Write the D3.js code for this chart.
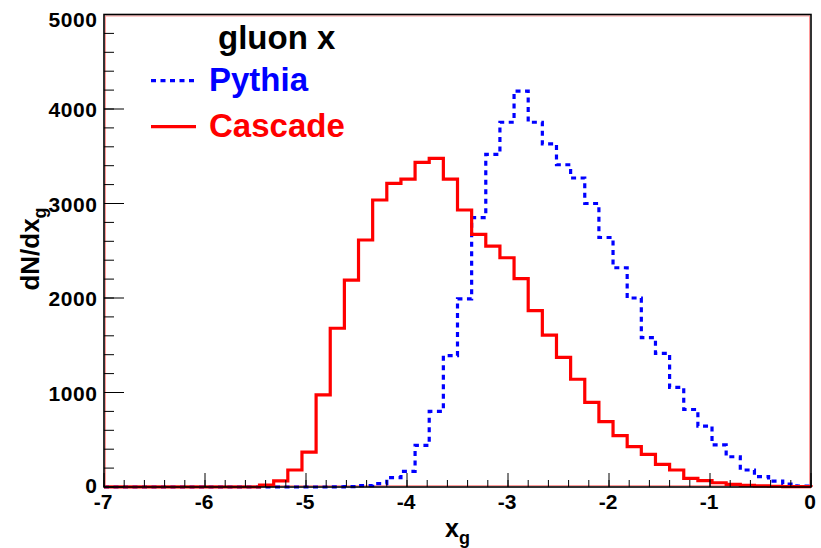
<!DOCTYPE html>
<html>
<head>
<meta charset="utf-8">
<script src="https://cdn.jsdelivr.net/npm/d3@7"></script>
<style>
  body { margin: 0; background: #fff; }
  svg { display: block; font-family: "Liberation Sans", Arial, sans-serif; font-weight: bold; }
</style>
</head>
<body>
<script>
// Histogram binning: 50 bins of x_g from -7 to 0
const binLow = -7, binHigh = 0, nBins = 50;

// Cascade (red, solid) bin contents
const cascadeCounts = [
  0, 0, 0, 0, 0, 0, 0, 0, 0, 0,
  0, 20, 65, 180, 370, 975, 1680, 2190, 2614, 3037,
  3214, 3259, 3436, 3478, 3259, 2931, 2674, 2550, 2426, 2205,
  1866, 1608, 1372, 1140, 896, 691, 543, 427, 346, 240,
  180, 92, 67, 45, 28, 18, 12, 8, 5, 3
];

// Pythia (blue, dotted) bin contents
const pythiaCounts = [
  0, 0, 0, 0, 0, 0, 0, 0, 0, 0,
  0, 0, 0, 0, 0, 0, 2, 5, 15, 35,
  100, 165, 440, 800, 1390, 1990, 2850, 3520, 3860, 4190,
  3860, 3630, 3410, 3270, 3000, 2640, 2320, 2000, 1580, 1415,
  1055, 820, 645, 445, 320, 180, 110, 63, 32, 10
];

const xTicks = [-7, -6, -5, -4, -3, -2, -1, 0];
const yTicks = [0, 1000, 2000, 3000, 4000, 5000];
const legendTitle = "gluon x";
const seriesNames = ["Pythia", "Cascade"];

const W = 821, H = 548;
const margin = {top: 14.5, right: 10, bottom: 61, left: 104};
const width = 811 - margin.left, height = 487 - margin.top;

const svg = d3.select("body").append("svg")
  .attr("width", W).attr("height", H);

const g = svg.append("g")
  .attr("transform", "translate(" + margin.left + "," + margin.top + ")");

const x = d3.scaleLinear().domain([binLow, binHigh]).range([0, width]);
const y = d3.scaleLinear().domain([0, 5000]).range([height, 0]);

// Turn bin contents into step points (low edge of every bin + closing edge)
function steps(counts) {
  const w = (binHigh - binLow) / nBins;
  const pts = [[binLow, 0]];
  counts.forEach((c, i) => pts.push([binLow + i * w, c]));
  pts.push([binHigh, counts[counts.length - 1]]);
  pts.push([binHigh, 0]);
  return pts;
}

const histLine = d3.line()
  .x(d => x(d[0]))
  .y(d => y(d[1]))
  .curve(d3.curveStepAfter);

// inner reddish frame line seen in the original
g.append("rect")
  .attr("x", 1.5).attr("y", 1.5)
  .attr("width", width - 3).attr("height", height - 3)
  .attr("fill", "none").attr("stroke", "#ff9a9a").attr("stroke-width", 1);

// Histograms
g.append("path")
  .datum(steps(pythiaCounts))
  .attr("fill", "none")
  .attr("stroke", "#0000ff")
  .attr("stroke-width", 3.2)
  .attr("stroke-dasharray", "5,4.5")
  .attr("d", histLine);

g.append("path")
  .datum(steps(cascadeCounts))
  .attr("fill", "none")
  .attr("stroke", "#ff0000")
  .attr("stroke-width", 3.2)
  .attr("d", histLine);

// Frame
g.append("rect")
  .attr("width", width).attr("height", height)
  .attr("fill", "none").attr("stroke", "#000").attr("stroke-width", 1.6);

// X axis: major ticks of 14px, 5 minor divisions of 7px, pointing inward
const xMinor = d3.range(binLow, binHigh + 0.001, 0.2);
const xAxis = g.append("g").attr("transform", "translate(0," + height + ")");
xAxis.selectAll("line.minor").data(xMinor).enter().append("line")
  .attr("x1", d => x(d)).attr("x2", d => x(d))
  .attr("y1", 0).attr("y2", -7)
  .attr("stroke", "#000").attr("stroke-width", 1);
xAxis.selectAll("line.major").data(xTicks).enter().append("line")
  .attr("x1", d => x(d)).attr("x2", d => x(d))
  .attr("y1", 0).attr("y2", -14)
  .attr("stroke", "#000").attr("stroke-width", 1);
xAxis.selectAll("text").data(xTicks).enter().append("text")
  .attr("x", d => x(d) - 1)
  .attr("y", 22)
  .attr("text-anchor", "middle")
  .attr("font-size", 21)
  .text(d => d);

// Y axis: major ticks of 20px, minor every 200 of 10px
const yMinor = d3.range(0, 5001, 200);
const yAxis = g.append("g");
yAxis.selectAll("line.minor").data(yMinor).enter().append("line")
  .attr("x1", 0).attr("x2", 10)
  .attr("y1", d => y(d)).attr("y2", d => y(d))
  .attr("stroke", "#000").attr("stroke-width", 1);
yAxis.selectAll("line.major").data(yTicks).enter().append("line")
  .attr("x1", 0).attr("x2", 20)
  .attr("y1", d => y(d)).attr("y2", d => y(d))
  .attr("stroke", "#000").attr("stroke-width", 1);
yAxis.selectAll("text").data(yTicks).enter().append("text")
  .attr("x", -6.5)
  .attr("y", d => Math.max(y(d), 4) + (d === 0 ? 6 : 8))
  .attr("text-anchor", "end")
  .attr("font-size", 21)
  .attr("letter-spacing", 0.6)
  .text(d => d);

// Axis titles
const xTitle = svg.append("text")
  .attr("x", 457.5).attr("y", 537)
  .attr("text-anchor", "middle")
  .attr("font-size", 25);
xTitle.append("tspan").text("x");
xTitle.append("tspan").attr("font-size", 18).attr("dy", 7).text("g");

const yTitle = svg.append("text")
  .attr("transform", "translate(39,249) rotate(-90)")
  .attr("text-anchor", "middle")
  .attr("font-size", 26);
yTitle.append("tspan").text("dN/dx");
yTitle.append("tspan").attr("font-size", 18).attr("dy", 7).text("g");

// Legend
const legend = svg.append("g");
legend.append("text")
  .attr("x", 218).attr("y", 49)
  .attr("font-size", 33)
  .attr("fill", "#000")
  .text(legendTitle);

const legendColors = ["#0000ff", "#ff0000"];
const legendDash = ["5,4.5", null];
const legendY = [90.7, 136.7];
seriesNames.forEach((name, i) => {
  legend.append("line")
    .attr("x1", 151).attr("x2", 196)
    .attr("y1", legendY[i] - 10).attr("y2", legendY[i] - 10)
    .attr("stroke", legendColors[i])
    .attr("stroke-width", 3.2)
    .attr("stroke-dasharray", legendDash[i]);
  legend.append("text")
    .attr("x", 209).attr("y", legendY[i])
    .attr("font-size", 33)
    .attr("fill", legendColors[i])
    .text(name);
});
</script>
</body>
</html>
